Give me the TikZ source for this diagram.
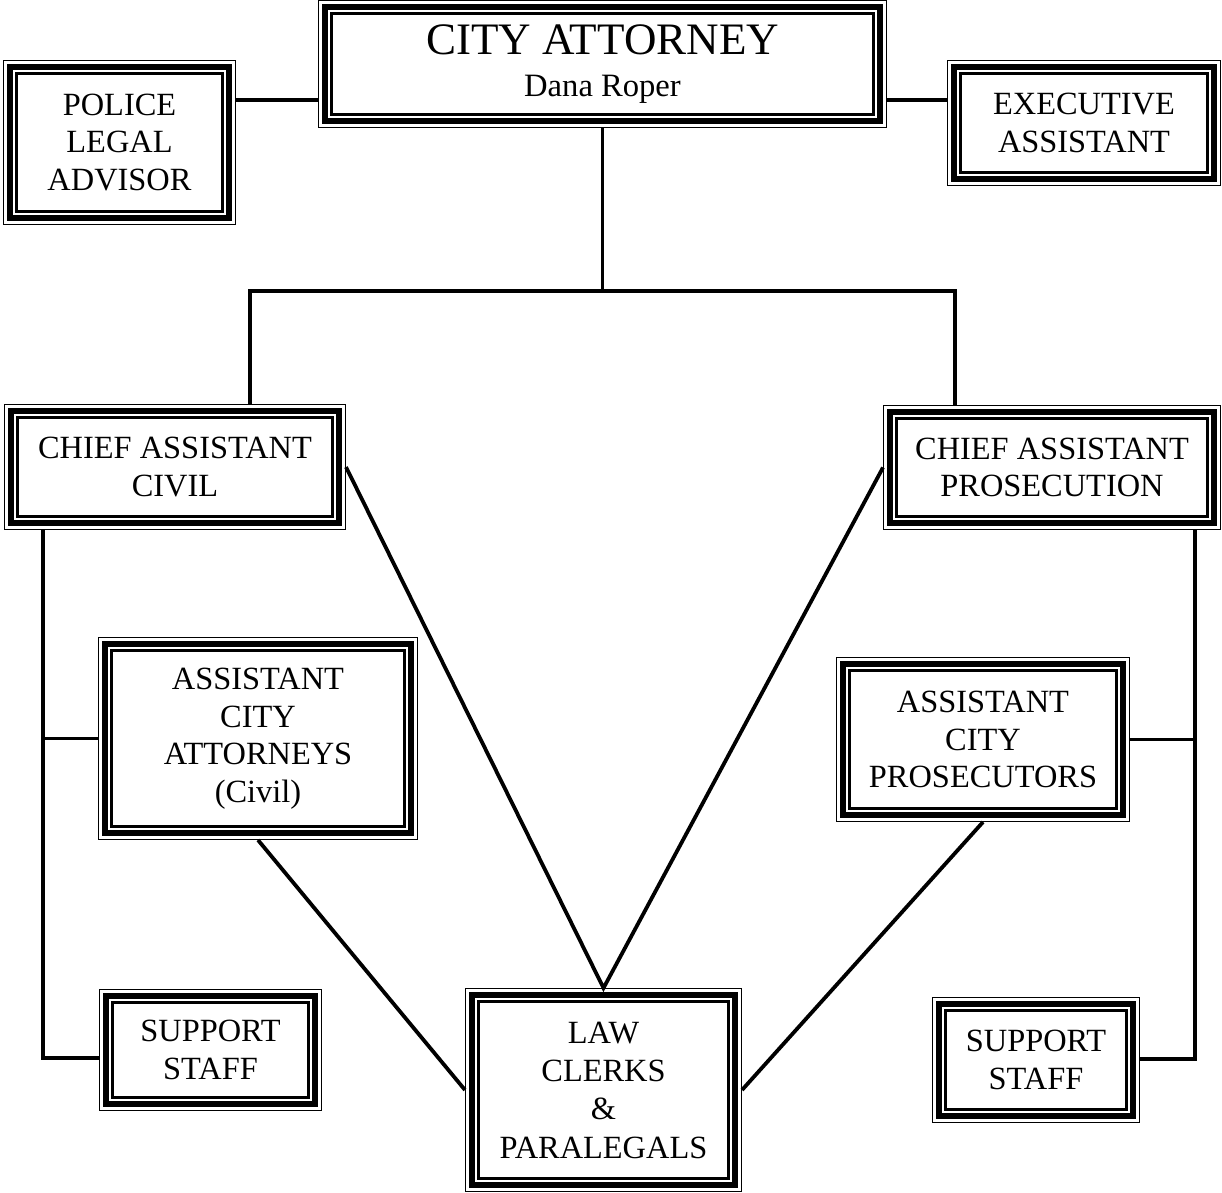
\documentclass[tikz,border=0pt]{standalone}
\usepackage{fontspec}
\setmainfont{Liberation Serif}
\usetikzlibrary{calc}
\tikzset{
  orgbox/.style={draw=none, inner sep=0pt, outer sep=0pt, align=center,
    font=\fontsize{32.4}{37.5}\selectfont},
  conn/.style={line width=3.8pt, line join=miter},
}
\newcommand\triframe[1]{%
  \draw[line width=1.3pt] ($(#1.north west)+(0.65,0.65)$) rectangle ($(#1.south east)+(-0.65,-0.65)$);
  \draw[line width=5.5pt] ($(#1.north west)+(7,7)$) rectangle ($(#1.south east)+(-7,-7)$);
  \draw[line width=2.4pt] ($(#1.north west)+(13.5,13.5)$) rectangle ($(#1.south east)+(-13.5,-13.5)$);
}
\begin{document}
\begin{tikzpicture}[x=1pt,y=-1pt]
\useasboundingbox (0,0) rectangle (1222,1192);

\node[orgbox, minimum width=569pt, minimum height=128pt, font=\fontsize{32.6}{42}\selectfont] (ca) at (602.5,64)
  {{\fontsize{45}{45}\selectfont CITY ATTORNEY}\\Dana Roper};
\node[orgbox, minimum width=233pt, minimum height=165pt] (pla) at (119.5,142.5) {POLICE\\LEGAL\\ADVISOR};
\node[orgbox, minimum width=274pt, minimum height=126pt] (exa) at (1084,123) {EXECUTIVE\\ASSISTANT};
\node[orgbox, minimum width=342pt, minimum height=126pt] (civ) at (175,467) {CHIEF ASSISTANT\\CIVIL};
\node[orgbox, minimum width=338pt, minimum height=125pt] (pro) at (1052,467.5) {CHIEF ASSISTANT\\PROSECUTION};
\node[orgbox, minimum width=320pt, minimum height=203pt] (aca) at (258,738.5) {ASSISTANT\\CITY\\ATTORNEYS\\(Civil)};
\node[orgbox, minimum width=294pt, minimum height=165pt] (apc) at (983,739.5) {ASSISTANT\\CITY\\PROSECUTORS};
\node[orgbox, minimum width=223pt, minimum height=122pt] (ss1) at (210.5,1050) {SUPPORT\\STAFF};
\node[orgbox, minimum width=277pt, minimum height=204pt, font=\fontsize{32.4}{38.3}\selectfont] (lc) at (603.5,1090) {LAW\\CLERKS\\\&\\PARALEGALS};
\node[orgbox, minimum width=208pt, minimum height=126pt] (ss2) at (1036,1060) {SUPPORT\\STAFF};

\foreach \n in {ca,pla,exa,civ,pro,aca,apc,ss1,lc,ss2} {\triframe{\n}}

\coordinate (hy) at (0,100);
\coordinate (jl) at (250,291);
\coordinate (jr) at (955,291);
\coordinate (sl) at (43,1058);
\coordinate (sr) at (1195,1059);

\draw[conn] (pla.east |- hy) -- (ca.west |- hy);
\draw[conn] (ca.east |- hy) -- (exa.west |- hy);
\draw[conn] (ca.south) -- (ca.south |- jl);
\draw[conn] (civ.north -| jl) -- (jl) -- (jr) -- (pro.north -| jr);
\draw[conn] (civ.south -| sl) -- (sl) -- (ss1.west |- sl);
\draw[conn] (aca.west) -- (aca.west -| sl);
\draw[conn] (pro.south -| sr) -- (sr) -- (ss2.east |- sr);
\draw[conn] (apc.east) -- (apc.east -| sr);
\draw[conn] (civ.east) -- (lc.north) -- (pro.west);
\draw[conn] (aca.south) -- (lc.west);
\draw[conn] (apc.south) -- (lc.east);
\end{tikzpicture}
\end{document}
